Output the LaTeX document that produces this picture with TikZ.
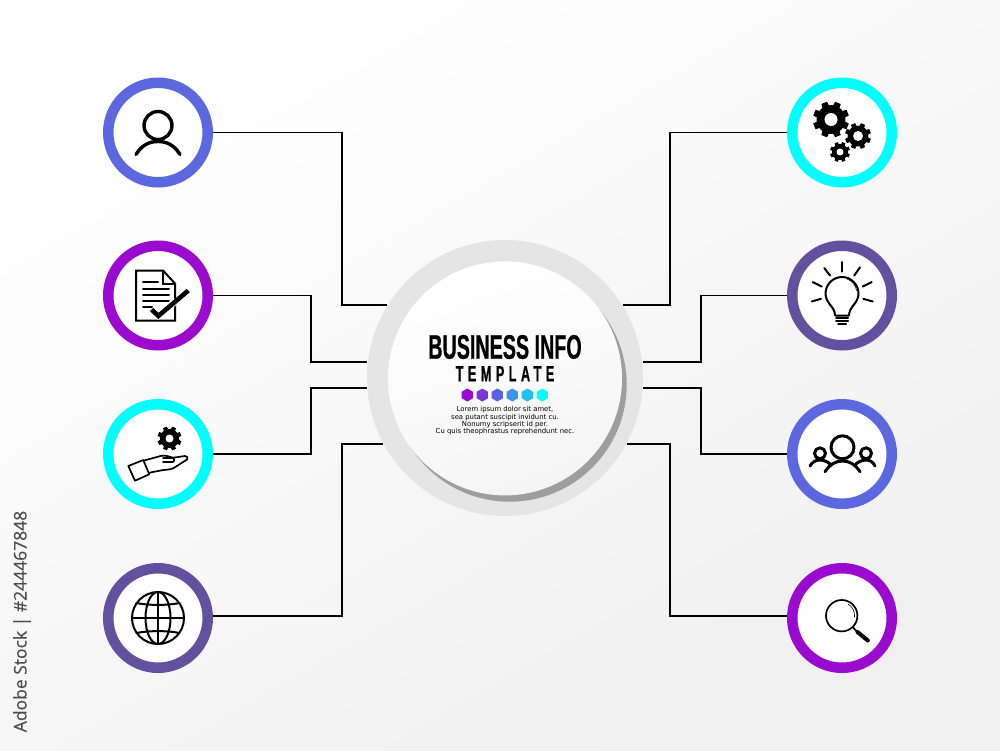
\documentclass[tikz,border=0pt]{standalone}
\usepackage{fontspec}
\setmainfont{Liberation Sans}
\newfontfamily\titlefont[FakeStretch=0.58,FakeBold=0.6]{Liberation Sans}
\newfontfamily\subtitlefont[FakeStretch=0.58,FakeBold=0.4,LetterSpace=20]{Liberation Sans}
\newfontfamily\bodyfont{DejaVu Sans}
\newfontfamily\stockfont[FakeBold=0.3]{Open Sans}
\usetikzlibrary{shapes.geometric}
\definecolor{Violet}{HTML}{9A0BCF}
\definecolor{Plum}{HTML}{62519F}
\definecolor{Indigo}{HTML}{5B68DF}
\definecolor{Aqua}{HTML}{00FFFF}
\tikzset{
  ring/.style={circle,draw=#1,fill=white,line width=10.5pt,inner sep=0pt,minimum size=99.5pt},
  wire/.style={draw=black,line width=1.9pt},
  hex/.style={regular polygon,regular polygon sides=6,shape border rotate=30,fill=#1,inner sep=0pt,minimum size=13pt},
  glyph/.style={line width=#1,line cap=round,line join=round},
  glyph/.default=2pt
}
\newcommand{\drawgear}[4]{% Parameters: x, y, outer radius, hole radius
  \foreach \a in {0,45,...,315}
    \fill[black,shift={(#1,#2)},rotate=\a+22.5] (-0.26*#3,0) -- (-0.17*#3,-#3) -- (0.17*#3,-#3) -- (0.26*#3,0) -- cycle;
  \fill[black] (#1,#2) circle[radius=0.8*#3];
  \fill[white] (#1,#2) circle[radius=#4];
}
\newcommand{\drawperson}[1]{% Parameter: node
  \begin{scope}[shift={(#1.center)},glyph=3.4pt]
    \draw (0,-7) circle[radius=14];
    \draw (-22,22) .. controls (-16,12) and (-8,9) .. (0,9) .. controls (8,9) and (16,12) .. (22,22);
  \end{scope}
}
\newcommand{\drawpaper}[1]{% Parameter: node
  \begin{scope}[shift={(#1.center)},glyph=2pt]
    \draw[line join=miter] (-22,-25) -- (5,-25) -- (17,-12) -- (17,25) -- (-22,25) -- cycle;
    \draw[line join=miter] (5,-25) -- (5,-12) -- (17,-12);
    \draw (-15,-13.5) -- (0,-13.5);
    \draw (-15,-7) -- (11,-7);
    \draw (-15,-1) -- (11,-1);
    \draw (-15,5) -- (11,5);
    \draw (-15,11.5) -- (-6,11.5);
    \draw[white,line width=7pt,line cap=butt] (-6,14) -- (0,20.5) -- (18,5);
    \draw[line width=4.6pt,line cap=butt,line join=miter] (-6.3,14) -- (0.3,20.5) -- (30.3,-5);
  \end{scope}
}
\newcommand{\drawhand}[1]{% Parameter: node
  \begin{scope}[shift={(#1.center)},glyph=1.7pt]
    \drawgear{11.5}{-15.5}{12}{4}
    \draw (-29.7,12) -- (-14.7,6) -- (-8.7,20.3) -- (-23,26.7) -- cycle;
    \draw (-14.7,6.7) -- (3.7,1.7) .. controls (8,1) and (12,3) .. (15.3,3.7)
      -- (27,2) .. controls (29,1.5) and (30.5,4) .. (29.3,5.3) -- (15.3,14.3)
      .. controls (11,16) and (8,15.5) .. (5.3,16) -- (-8.7,18.7);
    \draw (5,4) -- (15,4) .. controls (17,5) and (17,7) .. (15,8) -- (5,8);
  \end{scope}
}
\newcommand{\drawglobe}[1]{% Parameter: node
  \begin{scope}[shift={(#1.center)},glyph=2pt]
    \draw (0,0) circle[radius=26];
    \draw (0,0) circle[x radius=12.5,y radius=26];
    \draw (0,-26) -- (0,26);
    \draw (-26,0) -- (26,0);
    \draw (-21.5,-15) .. controls (-10,-12.5) and (10,-12.5) .. (21.5,-15);
    \draw (-21.5,15) .. controls (-10,12.5) and (10,12.5) .. (21.5,15);
  \end{scope}
}
\newcommand{\drawgears}[1]{% Parameter: node
  \begin{scope}[shift={(#1.center)}]
    \drawgear{-11}{-13}{18}{6.5}
    \drawgear{16}{3.5}{13}{5}
    \drawgear{-2}{19.5}{10}{3.5}
  \end{scope}
}
\newcommand{\drawbulb}[1]{% Parameter: node
  \begin{scope}[shift={(#1.center)},glyph=2pt]
    \draw (0,-33.3) -- (0,-24);
    \draw (-17.7,-27.4) -- (-12,-20);
    \draw (18,-28.2) -- (12.3,-20);
    \draw (-29.3,-13.4) -- (-20.3,-9);
    \draw (29.7,-13.4) -- (20.7,-9);
    \draw (-30.3,6) -- (-21,3.3);
    \draw (30.7,6) -- (21.3,3.3);
    \draw (-7,20) .. controls (-7,11) and (-16.5,8) .. (-16.5,-2)
      .. controls (-16.5,-11) and (-9,-18.5) .. (0,-18.5)
      .. controls (9,-18.5) and (16.5,-11) .. (16.5,-2)
      .. controls (16.5,8) and (7,11) .. (7,20) -- cycle;
    \draw[line width=0.6pt] (5,-16.5) .. controls (10,-15) and (14,-10) .. (14.5,-5);
    \draw (-6,22.8) -- (6,22.8);
    \draw (-6,25.6) -- (6,25.6);
    \draw (-4,28.4) -- (4,28.4);
  \end{scope}
}
\newcommand{\drawteam}[1]{% Parameter: node
  \begin{scope}[shift={(#1.center)},glyph=3pt]
    \draw (0.5,-6.7) circle[radius=11.5];
    \draw (-17,17.7) .. controls (-12,10) and (-6,7) .. (0.5,7) .. controls (7,7) and (13,10) .. (18,17.7);
    \draw (-22,-0.7) circle[radius=5.5];
    \draw (24,-0.7) circle[radius=5.5];
    \draw (-32,12) .. controls (-30,8) and (-26,6) .. (-22,6) .. controls (-18,6) and (-14,8) .. (-12,10);
    \draw (33,12) .. controls (31,8) and (28,6) .. (24,6) .. controls (20,6) and (16,8) .. (14,10);
  \end{scope}
}
\newcommand{\drawlens}[1]{% Parameter: node
  \begin{scope}[shift={(#1.center)},glyph=1.7pt]
    \draw (-0.3,-2.3) circle[radius=15.7];
    \draw[line width=0.6pt] (6,-14) .. controls (11,-11) and (13,-6) .. (12.5,-1);
    \draw (11,9.3) -- (15,13.7);
    \draw[line width=4pt] (15.5,14) -- (25.8,22.5);
  \end{scope}
}

\begin{document}
\begin{tikzpicture}[x=1pt,y=-1pt]
  \useasboundingbox (0,0) rectangle (1000,750);
  \shade[shading=axis,bottom color=black!6,top color=white,shading angle=30] (0,0) rectangle (1000,750);

  % hub
  \node[circle,fill=black!10,inner sep=0pt,outer sep=0pt,minimum size=276pt] (hub) at (505,378) {};
  \fill[black!38] (509.7,384.7) circle[radius=117];
  \shade[shading=axis,bottom color=black!4,top color=white,shading angle=20] (505,378.4) circle[radius=117];

  % rings
  \node[ring=Indigo] (person) at (158,132.5) {};
  \node[ring=Violet] (paper) at (158,295.5) {};
  \node[ring=Aqua] (hand) at (158,454) {};
  \node[ring=Plum] (globe) at (158,618) {};
  \node[ring=Aqua] (gears) at (842,132.5) {};
  \node[ring=Plum] (bulb) at (842,295.5) {};
  \node[ring=Indigo] (team) at (842,454) {};
  \node[ring=Violet] (lens) at (842,618) {};

  % connector ends on the hub
  \coordinate (hubla) at (387,305);
  \coordinate (hublb) at (367,362);
  \coordinate (hublc) at (367,388);
  \coordinate (hubld) at (383,444);
  \coordinate (hubra) at (623,305);
  \coordinate (hubrb) at (643,362);
  \coordinate (hubrc) at (643,388);
  \coordinate (hubrd) at (627,444);

  \draw[wire] (person.east) -- ++(129,0) |- (hubla);
  \draw[wire] (paper.east) -- ++(98,0) |- (hublb);
  \draw[wire] (hand.east) -- ++(98,0) |- (hublc);
  \draw[wire] ([yshift=2pt]globe.east) -- ++(129,0) |- (hubld);
  \draw[wire] (gears.west) -- ++(-117,0) |- (hubra);
  \draw[wire] (bulb.west) -- ++(-86,0) |- (hubrb);
  \draw[wire] (team.west) -- ++(-86,0) |- (hubrc);
  \draw[wire] ([yshift=2pt]lens.west) -- ++(-117,0) |- (hubrd);

  % icons
  \drawperson{person}
  \drawpaper{paper}
  \drawhand{hand}
  \drawglobe{globe}
  \drawgears{gears}
  \drawbulb{bulb}
  \drawteam{team}
  \drawlens{lens}

  % hub text
  \node[inner sep=0pt] (title) at (505,347) {\titlefont\fontsize{34}{34}\selectfont\bfseries BUSINESS INFO};
  \node[inner sep=0pt] (subtitle) at (505,373.8) {\subtitlefont\fontsize{22}{22}\selectfont\bfseries TEMPLATE};
  \foreach \i/\c in {0/9A0BCF,1/7B35D8,2/5C60E0,3/3D95EA,4/20C0F0,5/00FFFF} {
    \definecolor{hexcolor}{HTML}{\c}
    \node[hex=hexcolor] (hex\i) at (467.3+15*\i,395) {};
  }
  \node[inner sep=0pt,align=center,font=\bodyfont\fontsize{6.85}{7.4}\selectfont] (body) at (505,421)
    {Lorem ipsum dolor sit amet,\\sea putant suscipit invidunt cu.\\Nonumy scripserit id per.\\Cu quis theophrastus reprehendunt nec.};

  % side label
  \node[rotate=90,inner sep=0pt,text=black!70,font=\stockfont\fontsize{17.5}{17.5}\selectfont] (stock) at (22,621.5) {Adobe Stock | \#244467848};
\end{tikzpicture}
\end{document}
